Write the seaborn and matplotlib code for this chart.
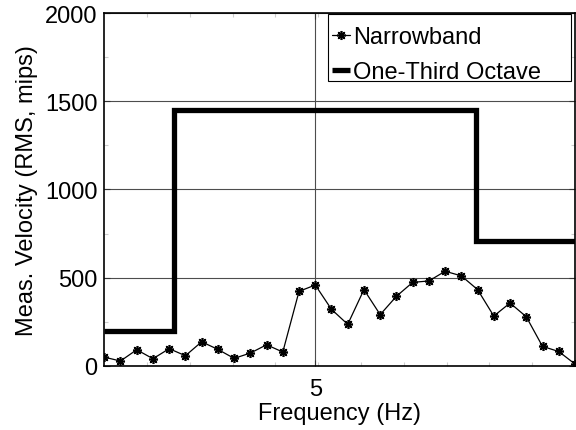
import numpy as np
import pandas as pd
import matplotlib
matplotlib.use("Agg")
import matplotlib.pyplot as plt
from matplotlib.ticker import FixedLocator
from matplotlib.patches import Rectangle
import seaborn as sns

# ---- data ----
freq_nb = [3.375, 3.5, 3.625, 3.75, 3.875, 4.0, 4.125, 4.25, 4.375, 4.5,
           4.625, 4.75, 4.875, 5.0, 5.125, 5.25, 5.375, 5.5, 5.625, 5.75,
           5.875, 6.0, 6.125, 6.25, 6.375, 6.5, 6.625, 6.75, 6.875, 7.0]
vel_nb = [49, 27, 91, 40, 97, 57, 136, 93, 42, 72,
          119, 78, 422, 458, 320, 235, 432, 290, 394, 473,
          481, 536, 510, 432, 282, 356, 278, 110, 81, 10]
band_edges = [3.375, 3.91, 6.24, 7.0]
band_levels = [200, 1450, 710]

x_ticks = [5]
y_ticks = [0, 500, 1000, 1500, 2000]

sns.set_theme(style="ticks")
plt.rcParams["font.family"] = ["Liberation Sans", "DejaVu Sans"]
plt.rcParams["font.size"] = 17
plt.rcParams["text.color"] = "black"
plt.rcParams["axes.labelcolor"] = "black"
plt.rcParams["xtick.color"] = "black"
plt.rcParams["ytick.color"] = "black"

fig = plt.figure(figsize=(5.76, 4.31), dpi=100)
ax = fig.add_axes([0.181, 0.149, 0.8172, 0.8183])

nb = pd.DataFrame({"Frequency": freq_nb, "Velocity": vel_nb})
step_x = band_edges
step_y = band_levels + [band_levels[-1]]
toct = pd.DataFrame({"Frequency": step_x, "Velocity": step_y})

sns.lineplot(data=nb, x="Frequency", y="Velocity", ax=ax, color="black",
             linewidth=0.9, marker=(8, 2, 0), markersize=6.5,
             markeredgewidth=1.2, markeredgecolor="black",
             estimator=None, sort=False, label="Narrowband")
sns.lineplot(data=toct, x="Frequency", y="Velocity", ax=ax, color="black",
             linewidth=3.8, drawstyle="steps-post", estimator=None, sort=False,
             solid_joinstyle="miter", solid_capstyle="butt",
             label="One-Third Octave")

ax.set_xlim(freq_nb[0], freq_nb[-1])
ax.set_ylim(0, 2000)
ax.set_xticks(x_ticks)
ax.set_xticklabels([str(t) for t in x_ticks])
ax.set_yticks(y_ticks)
ax.set_yticklabels([str(t) for t in y_ticks])

xr = freq_nb[-1] - freq_nb[0]
ax.xaxis.set_minor_locator(FixedLocator([freq_nb[0] + k * xr / 11 for k in range(1, 11)]))
ax.yaxis.set_minor_locator(FixedLocator([250, 750, 1250, 1750]))

ax.grid(True, which="major", color="0.3", linewidth=0.8, linestyle="-")
ax.set_axisbelow(True)
ax.tick_params(which="major", direction="in", length=4, width=0.8, color="0.2",
               labelcolor="black", labelsize=17, top=True, right=True)
ax.tick_params(axis="x", which="major", pad=9)
ax.tick_params(axis="y", which="major", pad=5)
ax.tick_params(which="minor", direction="in", length=3, width=0.8, color="0.8",
               top=True, right=True)
for s in ax.spines.values():
    s.set_color("black")
    s.set_linewidth(1.2)

ax.set_xlabel("Frequency (Hz)", fontsize=17, labelpad=1, color="black")
ax.set_ylabel("Meas. Velocity (RMS, mips)", fontsize=17, labelpad=5, color="black")

# legend frame (MATLAB-style box with wide right margin)
box = Rectangle((0.4759, 0.8072), 0.9909 - 0.4759, 0.9972 - 0.8072,
                transform=ax.transAxes, facecolor="white", edgecolor="black",
                linewidth=0.8, zorder=4)
ax.add_patch(box)

leg = ax.legend(loc="upper left", bbox_to_anchor=(0.4830, 0.962), fontsize=17,
                frameon=False, borderpad=0.0, handlelength=0.78,
                handletextpad=0.13, labelspacing=0.55, borderaxespad=0.0)
leg.set_zorder(5)
for t in leg.get_texts():
    t.set_color("black")

fig.savefig("out.png", dpi=100)
